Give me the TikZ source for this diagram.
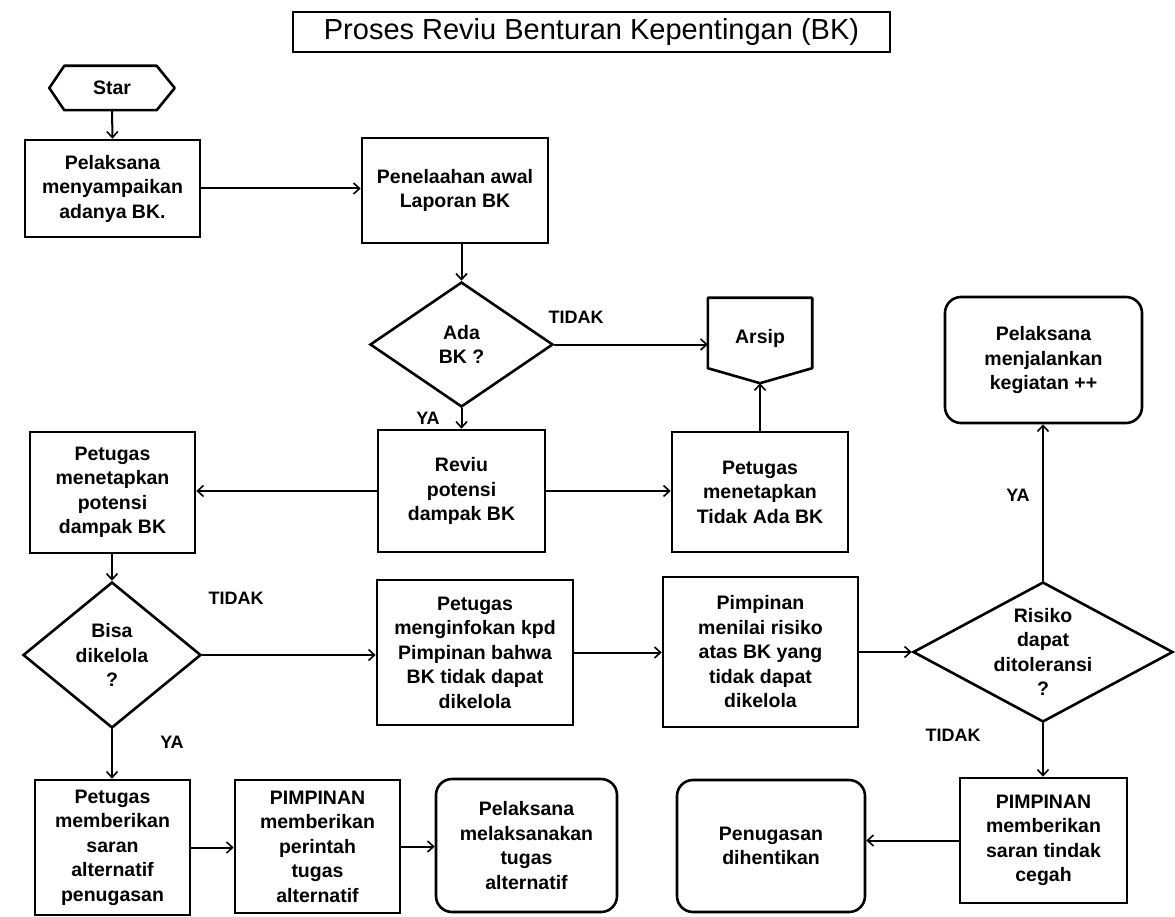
\documentclass[tikz,border=0pt]{standalone}
\usepackage{fontspec}
\setmainfont{Liberation Sans}
\usetikzlibrary{shapes.geometric,arrows.meta}
\newcommand\mybodyfont{\bfseries\fontsize{19.5}{24.5}\selectfont}
\newcommand\mylblfont{\bfseries\fontsize{18}{20}\selectfont}
\newcommand\mytitlefont{\fontsize{29}{34}\selectfont}
\begin{document}
\begin{tikzpicture}[x=1pt,y=-1pt,
  box/.style={draw, line width=2.6pt, align=center, font=\mybodyfont, inner sep=2pt},
  rbox/.style={box, rounded corners=16pt},
  dia/.style={draw, diamond, line width=2.6pt, inner sep=0pt},
  txt/.style={align=center, font=\mybodyfont, inner sep=0pt},
  lbl/.style={font=\mylblfont, inner sep=0pt},
  arr/.style={line width=2pt, -{Straight Barb[length=6pt,width=11pt,line width=1.6pt]}},
]
\useasboundingbox (0,0) rectangle (1175,917);

% title
\node[draw, line width=2.4pt, minimum width=597, minimum height=40, font=\mytitlefont] (title) at (591.5,32) {Proses Reviu Benturan Kepentingan (BK)};

% start hexagon
\node[txt, minimum width=125, minimum height=44] (start) at (112,88) {Star};
\draw[line width=2.6pt, line join=round] (start.west) -- ([xshift=15pt]start.north west) -- ([xshift=-18pt]start.north east) -- (start.east) -- ([xshift=-18pt]start.south east) -- ([xshift=15pt]start.south west) -- cycle;

% boxes
\node[box, minimum width=175, minimum height=97] (p1) at (112.5,188.5) {Pelaksana\\menyampaikan\\adanya BK.};
\node[box, minimum width=186, minimum height=105] (p2) at (455,190.5) {Penelaahan awal\\Laporan BK};
\node[dia, minimum width=183, minimum height=125] (d1) at (461.5,344.5) {};
\node[txt] at (461.5,344.5) {Ada\\BK ?};

% arsip
\node[inner sep=0pt, minimum width=104, minimum height=85] (arsip) at (760,340.5) {};
\draw[line width=2.6pt, line join=round] (arsip.north west) -- (arsip.north east) -- ([yshift=15pt]arsip.south east) -- (arsip.south) -- ([yshift=15pt]arsip.south west) -- cycle;
\node[txt] at (760,338) {Arsip};

\node[box, minimum width=167, minimum height=122] (p3) at (461.5,491) {Reviu\\potensi\\dampak BK};
\node[box, minimum width=176, minimum height=120] (p4) at (760,492) {Petugas\\menetapkan\\Tidak Ada BK};
\node[box, minimum width=165, minimum height=121] (p5) at (112.5,492.5) {Petugas\\menetapkan\\potensi\\dampak BK};

\node[dia, minimum width=178, minimum height=146] (d2) at (112,655) {};
\node[txt] at (112,655) {Bisa\\dikelola\\?};

\node[box, minimum width=196, minimum height=145] (p6) at (475,652.5) {Petugas\\menginfokan kpd\\Pimpinan bahwa\\BK tidak dapat\\dikelola};
\node[box, minimum width=195, minimum height=150] (p7) at (760.5,652) {Pimpinan\\menilai risiko\\atas BK yang\\tidak dapat\\dikelola};

\node[dia, minimum width=260, minimum height=140] (d3) at (1043,652) {};
\node[txt] at (1043,652) {Risiko\\dapat\\ditoleransi\\?};

\node[rbox, minimum width=197, minimum height=126] (p8) at (1043.5,360) {Pelaksana\\menjalankan\\kegiatan ++};
\node[box, minimum width=167, minimum height=125] (p9) at (1043.5,840.5) {PIMPINAN\\memberikan\\saran tindak\\cegah};
\node[rbox, minimum width=188, minimum height=132] (p10) at (771,846) {Penugasan\\dihentikan};
\node[box, minimum width=155, minimum height=135] (p11) at (112.5,847.5) {Petugas\\memberikan\\saran\\alternatif\\penugasan};
\node[box, minimum width=165, minimum height=133] (p12) at (317.5,846.5) {PIMPINAN\\memberikan\\perintah\\tugas\\alternatif};
\node[rbox, minimum width=181, minimum height=133] (p13) at (526.5,845.5) {Pelaksana\\melaksanakan\\tugas\\alternatif};

% connectors
\draw[arr] (start.south) -- (p1.north);
\draw[arr] (p1.east) -- (p1.east -| p2.west);
\draw[arr] (p2.south -| d1.north) -- (d1.north);
\draw[arr] (d1.east) -- (d1.east -| arsip.west);
\draw[arr] (d1.south) -- (p3.north);
\draw[arr] (p3.east) -- (p3.east -| p4.west);
\draw[arr] (p3.west) -- (p3.west -| p5.east);
\draw[arr] (p4.north) -- (arsip.south);
\draw[arr] (p5.south -| d2.north) -- (d2.north);
\draw[arr] (d2.east) -- (d2.east -| p6.west);
\draw[arr] (p6.east) -- (p6.east -| p7.west);
\draw[arr] (p7.east) -- (d3.west);
\draw[arr] (d3.north) -- (d3.north |- p8.south);
\draw[arr] (d3.south) -- (d3.south |- p9.north);
\draw[arr] (p9.west) -- (p9.west -| p10.east);
\draw[arr] (d2.south) -- (d2.south |- p11.north);
\draw[arr] (p11.east) -- (p11.east -| p12.west);
\draw[arr] (p12.east) -- (p12.east -| p13.west);

% labels
\node[lbl] (l1) at (576,317) {TIDAK};
\node[lbl] (l2) at (428,418) {YA};
\node[lbl] (l3) at (236,598) {TIDAK};
\node[lbl] (l4) at (172,742) {YA};
\node[lbl] (l5) at (1018,495) {YA};
\node[lbl] (l6) at (953,735) {TIDAK};
\end{tikzpicture}
\end{document}
